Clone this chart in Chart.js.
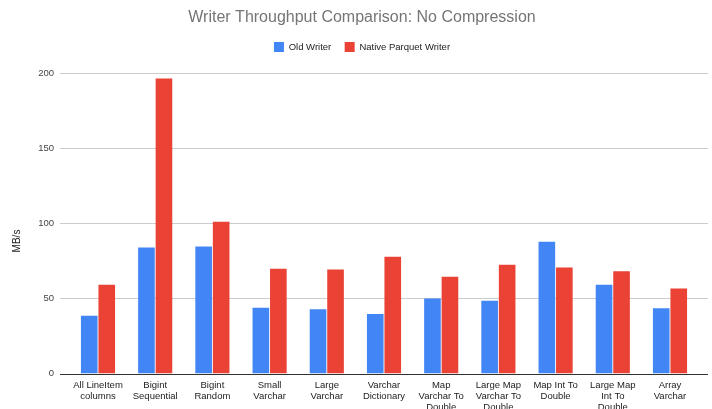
<!DOCTYPE html>
<html>
<head>
<meta charset="utf-8">
<title>Writer Throughput Comparison: No Compression</title>
<script src="https://cdn.jsdelivr.net/npm/chart.js@4/dist/chart.umd.min.js"></script>
<style>
  html, body { margin: 0; padding: 0; background: #ffffff; overflow: hidden; width: 712px; height: 409px; }
  canvas { display: block; }
</style>
</head>
<body>
<canvas id="chart" width="712" height="430"></canvas>
<script>
// Benchmark categories (multi-line axis labels)
const categories = [
  ["All LineItem", "columns"],
  ["Bigint", "Sequential"],
  ["Bigint", "Random"],
  ["Small", "Varchar"],
  ["Large", "Varchar"],
  ["Varchar", "Dictionary"],
  ["Map", "Varchar To", "Double"],
  ["Large Map", "Varchar To", "Double"],
  ["Map Int To", "Double"],
  ["Large Map", "Int To", "Double"],
  ["Array", "Varchar"]
];

// Throughput in MB/s
const oldWriter           = [38.4, 83.9, 84.6, 43.7, 42.7, 39.6, 50.0, 48.4, 87.7, 59.0, 43.5];
const nativeParquetWriter = [59.0, 196.3, 101.0, 69.7, 69.3, 77.7, 64.4, 72.4, 70.6, 68.0, 56.6];

const yTicks = [0, 50, 100, 150, 200];
const seriesNames = ["Old Writer", "Native Parquet Writer"];
const chartTitle = "Writer Throughput Comparison: No Compression";
const yAxisTitle = "MB/s";

const FONT = "'Liberation Sans', Arial, sans-serif";
const CANVAS_H = 430;
const PLOT_BOTTOM = 373.5;

// Horizontal grid lines that run slightly past the plot edges, a dark
// baseline at zero, and the rotated y-axis caption.
const frame = {
  id: 'frame',
  beforeDatasetsDraw(chart) {
    const { ctx, chartArea, scales: { y } } = chart;
    ctx.save();
    ctx.strokeStyle = '#cccccc';
    ctx.lineWidth = 1;
    y.ticks.forEach(t => {
      if (t.value === 0) return;
      const py = Math.round(y.getPixelForValue(t.value)) + 0.5;
      ctx.beginPath();
      ctx.moveTo(chartArea.left - 9.4, py);
      ctx.lineTo(chartArea.right + 9.4, py);
      ctx.stroke();
    });
    ctx.restore();
  },
  afterDatasetsDraw(chart) {
    const { ctx, chartArea, scales: { y } } = chart;
    const py = Math.round(y.getPixelForValue(0)) + 0.5;
    ctx.save();
    ctx.strokeStyle = '#333333';
    ctx.lineWidth = 1.2;
    ctx.beginPath();
    ctx.moveTo(chartArea.left - 9.4, py);
    ctx.lineTo(chartArea.right + 9.4, py);
    ctx.stroke();
    ctx.restore();
  },
  afterDraw(chart) {
    const { ctx } = chart;
    ctx.save();
    ctx.translate(17.5, 241);
    ctx.rotate(-Math.PI / 2);
    ctx.fillStyle = '#222222';
    ctx.font = `10px ${FONT}`;
    ctx.textAlign = 'center';
    ctx.textBaseline = 'middle';
    ctx.fillText(yAxisTitle, 0, 0);
    ctx.restore();
  }
};

new Chart(document.getElementById('chart'), {
  type: 'bar',
  data: {
    labels: categories,
    datasets: [
      { label: seriesNames[0], data: oldWriter, backgroundColor: '#4285F4' },
      { label: seriesNames[1], data: nativeParquetWriter, backgroundColor: '#EA4335' }
    ]
  },
  options: {
    responsive: false,
    animation: false,
    layout: { padding: { left: 25.4, right: 13.4, top: 0, bottom: 0 } },
    datasets: { bar: { categoryPercentage: 0.612, barPercentage: 0.95 } },
    plugins: {
      title: {
        display: true,
        text: chartTitle,
        color: '#757575',
        font: { family: FONT, size: 16, weight: 'normal', lineHeight: 1.2 },
        padding: { top: 8.4, bottom: 1 }
      },
      // empty block that keeps a gap between the legend and the plot
      subtitle: {
        display: true,
        text: '',
        weight: 500,
        padding: 0,
        font: { family: FONT, size: 11, lineHeight: 1 }
      },
      legend: {
        display: true,
        position: 'top',
        labels: {
          boxWidth: 10,
          boxHeight: 10,
          padding: 13.4,
          color: '#222222',
          font: { family: FONT, size: 9.5 }
        }
      },
      tooltip: { enabled: false }
    },
    scales: {
      x: {
        grid: { display: false, drawTicks: false },
        border: { display: false },
        ticks: {
          color: '#222222',
          font: { family: FONT, size: 9.5, lineHeight: '11px' },
          padding: 6.5,
          maxRotation: 0,
          autoSkip: false
        },
        afterFit(scale) { scale.height = CANVAS_H - PLOT_BOTTOM; }
      },
      y: {
        min: yTicks[0],
        max: yTicks[yTicks.length - 1],
        grid: { display: false, drawTicks: false },
        border: { display: false },
        ticks: {
          color: '#444444',
          font: { family: FONT, size: 9.5 },
          padding: 15.4
        },
        afterBuildTicks(scale) { scale.ticks = yTicks.map(v => ({ value: v })); },
        afterFit(scale) { scale.width = 44; }
      }
    }
  },
  plugins: [frame]
});
</script>
</body>
</html>
